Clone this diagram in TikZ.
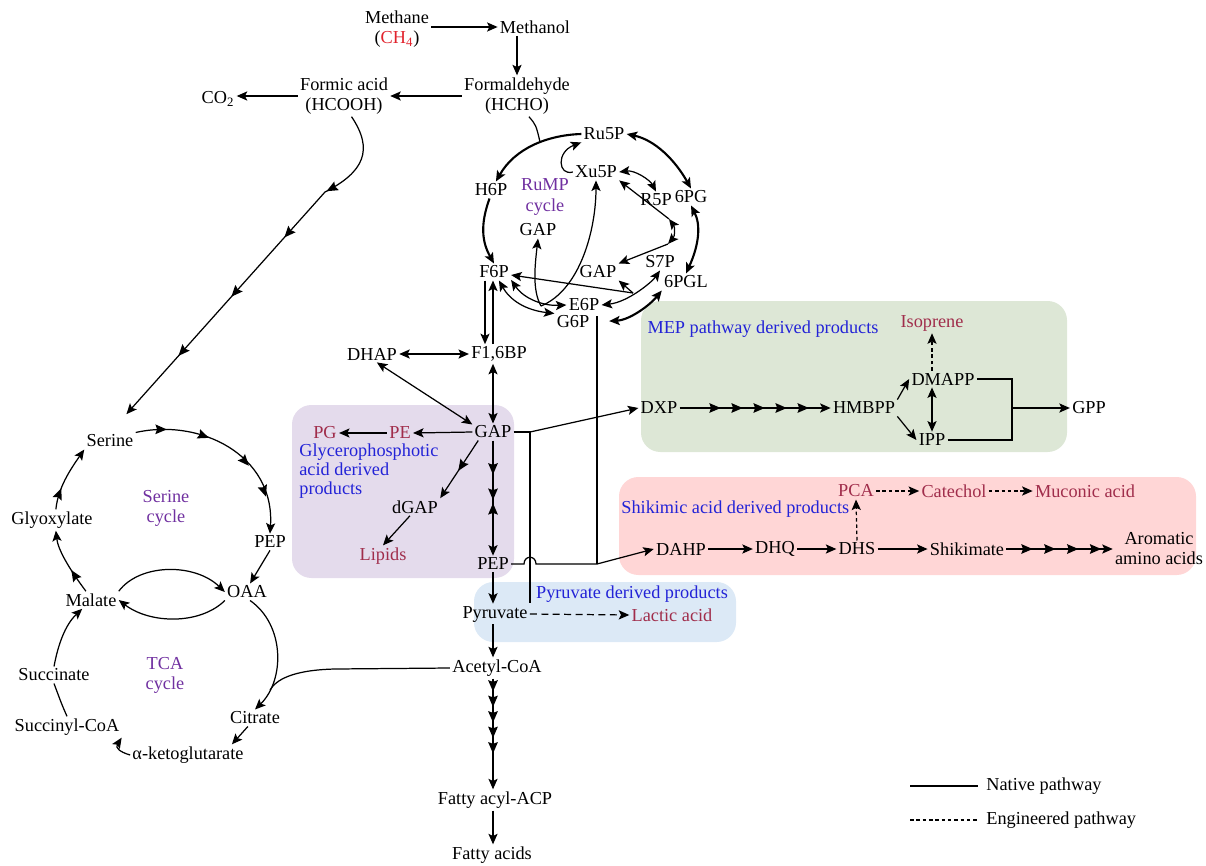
\documentclass[tikz,border=0pt]{standalone}
\usepackage{fontspec}
\setmainfont{Liberation Serif}
\usetikzlibrary{arrows.meta, calc, decorations.markings}
\definecolor{MetRed}{RGB}{225,35,45}
\definecolor{ProdRose}{RGB}{160,45,75}
\definecolor{CycPurple}{RGB}{112,48,160}
\definecolor{TagBlue}{RGB}{35,35,215}
\definecolor{ZonePurple}{RGB}{228,219,236}
\definecolor{ZoneGreen}{RGB}{221,231,214}
\definecolor{ZoneRed}{RGB}{255,214,214}
\definecolor{ZoneBlue}{RGB}{220,233,246}

\begin{document}
\begin{tikzpicture}[x=0.02cm, y=-0.02cm,
    >={Stealth[length=6pt, width=5.2pt, inset=1.3pt]},
    line width=0.7pt,
    every node/.style={inner sep=1pt, font=\fontsize{10.4}{11.4}\selectfont},
    met/.style={align=center},
    prod/.style={text=ProdRose},
    cyc/.style={text=CycPurple, align=center},
    tagtxt/.style={text=TagBlue, align=left, font=\fontsize{10.4}{10.8}\selectfont},
    zone/.style={rounded corners=11pt},
    heavy/.style={line width=1.2pt},
    eng/.style={dash pattern=on 2pt off 1.6pt},
    chev/.pic={\fill (1pt,0pt) -- (-5.5pt,2.8pt) -- (-4.5pt,0pt) -- (-5.5pt,-2.8pt) -- cycle;},
    chevback/.pic={\fill (-1pt,0pt) -- (5.5pt,2.8pt) -- (4.5pt,0pt) -- (5.5pt,-2.8pt) -- cycle;},
    midtip/.style={postaction=decorate, decoration={markings,
        mark=at position #1 with {\pic[transform shape]{chev};}}},
    tipsat/.style={postaction=decorate, decoration={markings,
        mark=between positions #1 with {\pic[transform shape]{chev};}}}
  ]
  \useasboundingbox (0,0) rectangle (1206,865);

  % coloured product zones
  \fill[ZonePurple, zone] (292,405) rectangle (514,578);
  \fill[ZoneGreen, zone] (641,301) rectangle (1067,452);
  \fill[ZoneRed, zone] (619,477) rectangle (1196,575);
  \fill[ZoneBlue, zone] (474,582) rectangle (736,642);

  % methane oxidation
  \node[met] (methane) at (397,29) {Methane\\(\textcolor{MetRed}{CH\textsubscript{4}})};
  \node (methanol) at (535,27) {Methanol};
  \node[met] (hcho) at (517,96) {Formaldehyde\\(HCHO)};
  \node[met] (hcooh) at (344,96) {Formic acid\\(HCOOH)};
  \node (co2) at (218,99) {CO\textsubscript{2}};

  % RuMP cycle
  \node (ru5p) at (604,134) {Ru5P};
  \node (xu5p) at (596,172) {Xu5P};
  \node (h6p) at (491,190) {H6P};
  \node[cyc] (rump) at (545,197) {RuMP\\cycle};
  \node (r5p) at (656,200) {R5P};
  \node (pg6) at (691,197) {6PG};
  \node (gapa) at (538,230) {GAP};
  \node (gapb) at (598,272) {GAP};
  \node (s7p) at (660,262) {S7P};
  \node (f6p) at (494,272) {F6P};
  \node (pgl) at (686,282) {6PGL};
  \node (e6p) at (584,305) {E6P};
  \node (g6p) at (573,322) {G6P};

  % glycolysis and side products
  \node (f16bp) at (499,354) {F1,6BP};
  \node (dhap) at (372,354) {DHAP};
  \node (gap) at (493,432) {GAP};
  \node[prod] (pe) at (400,433) {PE};
  \node[prod] (pgly) at (325,433) {PG};
  \node[tagtxt, anchor=north west] (glyctag) at (297,441) {Glycerophosphotic\\acid derived\\products};
  \node (dgap) at (415,507) {dGAP};
  \node[prod] (lipids) at (383,556) {Lipids};
  \node (pep) at (493,564) {PEP};
  \node (pyr) at (495,614) {Pyruvate};
  \node[prod] (lactic) at (672,615) {Lactic acid};
  \node[tagtxt] (pyrtag) at (632,594) {Pyruvate derived products};
  \node (acoa) at (497,668) {Acetyl-CoA};
  \node (facp) at (495,800) {Fatty acyl-ACP};
  \node (fatty) at (492,855) {Fatty acids};

  % MEP pathway
  \node[tagtxt] (meptag) at (763,329) {MEP pathway derived products};
  \node[prod] (isop) at (932,323) {Isoprene};
  \node (dxp) at (659,408) {DXP};
  \node (hmbpp) at (864,408) {HMBPP};
  \node (dmapp) at (943,379) {DMAPP};
  \node (ipp) at (932,440) {IPP};
  \node (gpp) at (1089,408) {GPP};

  % shikimate pathway
  \node[tagtxt, anchor=west] (shiktag) at (619,509) {Shikimic acid derived products};
  \node[prod] (pca) at (856,491) {PCA};
  \node[prod] (catechol) at (954,491) {Catechol};
  \node[prod] (muconic) at (1085,491) {Muconic acid};
  \node (dahp) at (681,549) {DAHP};
  \node (dhq) at (775,549) {DHQ};
  \node (dhs) at (857,549) {DHS};
  \node (shik) at (967,549) {Shikimate};
  \node[met] (arom) at (1159,549) {Aromatic\\amino acids};

  % serine and TCA cycles
  \node (serine) at (110,441) {Serine};
  \node (glyox) at (52,520) {Glyoxylate};
  \node[cyc] (sercyc) at (166,508) {Serine\\cycle};
  \node (pepb) at (270,542) {PEP};
  \node (oaa) at (247,592) {OAA};
  \node (malate) at (91,600) {Malate};
  \node (succ) at (54,675) {Succinate};
  \node[cyc] (tcacyc) at (165,675) {TCA\\cycle};
  \node (citrate) at (255,718) {Citrate};
  \node (succoa) at (67,727) {Succinyl-CoA};
  \node (akg) at (188,755) {α-ketoglutarate};

  % legend
  \node[anchor=west] (native) at (984,786) {Native pathway};
  \node[anchor=west] (engin) at (984,820) {Engineered pathway};
  \draw ($(native.west)+(-74,0)$) -- ($(native.west)+(-6,0)$);
  \draw[eng] ($(engin.west)+(-74,0)$) -- ($(engin.west)+(-6,0)$);

  % methane to formaldehyde
  \draw[->] (methane.east |- methanol) -- (methanol.west);
  \draw[->] (methanol.south -| hcho.north) -- (hcho.north);
  \draw[->] (hcho.west) -- (hcooh.east);
  \draw[->] (hcooh.west) -- (co2.east |- hcooh.west);
  \draw[->, shorten >=14pt, postaction=decorate, decoration={markings,
      mark=at position 0.22 with {\pic[transform shape]{chev};},
      mark=at position 0.37 with {\pic[transform shape]{chev};},
      mark=at position 0.56 with {\pic[transform shape]{chev};},
      mark=at position 0.75 with {\pic[transform shape]{chev};}}]
    (hcooh.-70) .. controls (374,150) and (364,172) .. (325,192) -- (serine.north);

  % RuMP cycle reactions
  \coordinate (rjoin) at (540,142);
  \draw (hcho.-60) .. controls (536,125) .. (rjoin);
  \draw[->, heavy] (ru5p.west) .. controls (548,135) and (515,148) .. (h6p.60);
  \draw[->, heavy] (h6p.-100) .. controls (480,225) and (482,242) .. (f6p.north);
  \draw[<->, heavy] (ru5p.east) .. controls (655,140) and (675,160) .. (pg6.north);
  \draw[<->, heavy] (pg6.south) .. controls (701,225) and (699,245) .. (pgl.north);
  \draw[<->, heavy, shorten >=10pt] (pgl.south west) .. controls (650,305) and (630,320) .. (g6p.east);
  \draw[->] (xu5p.west) .. controls (558,176) and (556,152) .. (ru5p.south west);
  \draw[<->] (xu5p.east) .. controls (635,170) and (650,180) .. (r5p.north);
  \coordinate (tka) at (669,219);
  \coordinate (tkb) at (668,244);
  \draw[<->] (tka) .. controls (675,227) and (675,236) .. (tkb);
  \draw[->] (tka) -- (xu5p.south east);
  \draw[->] (tkb) -- (gapb.north east);
  \coordinate (tal) at (633,293);
  \draw[<->] (s7p.south) .. controls (652,282) and (628,302) .. (e6p.east);
  \draw[->] (tal) -- (gapb.south east);
  \draw[->] (tal) -- (f6p.-10);
  \coordinate (tkc) at (541,306);
  \draw[<->] (f6p.-25) .. controls (525,300) and (545,306) .. (e6p.west);
  \draw[<->] (f6p.-60) .. controls (510,300) and (525,310) .. (g6p.north west);
  \draw[->] (tkc) .. controls (532,290) and (535,265) .. (gapa.south);
  \draw[->] (tkc) .. controls (580,290) and (596,230) .. (xu5p.south);

  % glycolysis
  \draw[->] ($(f6p.south)+(-9,0)$) -- ($(f16bp.north)+(-14,0)$);
  \draw[->] ($(f16bp.north)+(-6,0)$) -- ($(f6p.south)+(-1,0)$);
  \draw[<->] (dhap.east) -- (f16bp.west);
  \draw[<->] (dhap.-60) -- (gap.160);
  \draw[<->] (f16bp.south -| gap.north) -- (gap.north);
  \draw[->] (gap.west) -- (pe.east);
  \draw[->] (pe.west) -- (pgly.east);
  \draw[->, midtip=0.5] (gap.-150) -- (dgap.north east);
  \draw[->] (dgap.-120) -- (lipids.north);
  \draw[->, postaction=decorate, decoration={markings,
      mark=at position 0.28 with {\pic[transform shape]{chev};},
      mark=at position 0.5 with {\pic[transform shape]{chev};},
      mark=at position 0.56 with {\pic[transform shape]{chevback};}}]
    (gap.south) -- (pep.north);
  \draw[->] (pep.south) -- (pyr.north -| pep.south);
  \draw[->, dash pattern=on 4pt off 2.5pt] (pyr.east) -- (lactic.west);
  \draw[->] (pyr.south -| pep.south) -- (acoa.north -| pep.south);
  \draw[->, tipsat={0.1 and 0.66 step 0.14}] (acoa.south -| pep.south) -- (facp.north -| pep.south);
  \draw[->] (facp.south -| pep.south) -- (fatty.north -| pep.south);
  \coordinate (cjoin) at (270,690);
  \draw (acoa.west) -- (335,669) .. controls (292,670) and (276,680) .. (cjoin);

  % branches to DXP and DAHP
  \coordinate (gj) at (530,432);
  \coordinate (pj) at (530,603);
  \coordinate (ej) at (597,564);
  \coordinate (e4) at (597,316);
  \draw (gap.east) -- (gj) -- (pj);
  \draw[->] (gj) -- (dxp.west);
  \draw (pep.east) -- (524,564) .. controls (524,555) and (536,555) .. (536,564) -- (ej);
  \draw (e4) -- (ej);
  \draw[->] (ej) -- (dahp.west);

  % MEP pathway
  \draw[->, tipsat={0.26 and 0.85 step 0.146}] (dxp.east) -- (hmbpp.west);
  \draw[->] (hmbpp.north east) -- (dmapp.west);
  \draw[->] (hmbpp.south east) -- (ipp.west);
  \draw[<->] (dmapp.south -| ipp.north) -- (ipp.north);
  \draw[->, eng] (dmapp.north -| ipp.north) -- (isop.south);
  \coordinate (gj2) at (1012,408);
  \draw (dmapp.east) -| (gj2);
  \draw (ipp.east) -| (gj2);
  \draw[->] (gj2) -- (gpp.west);

  % shikimate pathway
  \draw[->] (dahp.east) -- (dhq.west);
  \draw[->] (dhq.east) -- (dhs.west);
  \draw[->] (dhs.east) -- (shik.west);
  \draw[->, tipsat={0.23 and 0.9 step 0.215}] (shik.east) -- (arom.west);
  \draw[->, eng] (dhs.north) -- (pca.south);
  \draw[->, eng] (pca.east) -- (catechol.west);
  \draw[->, eng] (catechol.east) -- (muconic.west);

  % serine cycle
  \draw[->, postaction=decorate, decoration={markings,
      mark=at position 0.15 with {\pic[transform shape]{chev};},
      mark=at position 0.37 with {\pic[transform shape]{chev};},
      mark=at position 0.62 with {\pic[transform shape]{chev};},
      mark=at position 0.8 with {\pic[transform shape]{chev};}}]
    (serine.north east) .. controls (200,418) and (275,455) .. (pepb.north);
  \draw[->] (pepb.south) -- (oaa.70);
  \draw[->] (malate.north east) .. controls (140,563) and (195,563) .. (oaa.west);
  \draw[->] (oaa.south west) .. controls (200,625) and (150,624) .. (malate.east);
  \draw[->, midtip=0.35] (malate.120) .. controls (70,570) and (58,550) .. (glyox.-70);
  \draw[->, midtip=0.3] (glyox.70) .. controls (58,488) and (70,470) .. (serine.south west);

  % TCA cycle
  \draw[->] (oaa.-70) .. controls (285,625) and (285,680) .. (citrate.north);
  \draw[->] (citrate.-130) -- ($(akg.north east)+(-14,0)$);
  \draw[->] (akg.west) .. controls (120,752) and (115,748) .. (succoa.south east);
  \draw (succoa.north) .. controls (62,705) .. (succ.south);
  \draw[->] (succ.north) .. controls (58,645) and (65,625) .. (malate.-135);
\end{tikzpicture}
\end{document}
